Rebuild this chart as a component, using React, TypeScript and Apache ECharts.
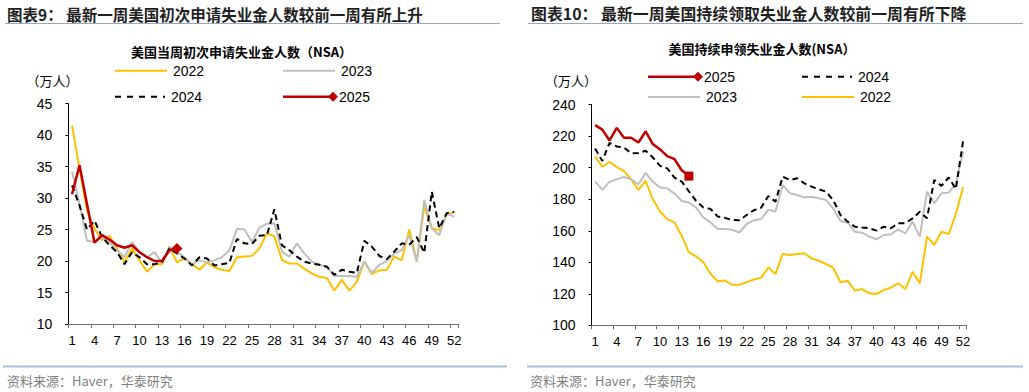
import React, { useEffect, useRef } from "react";
import * as echarts from "echarts";

// ---------- data ----------
const weeks = [
  "1","2","3","4","5","6","7","8","9","10","11","12","13","14","15","16","17","18","19","20",
  "21","22","23","24","25","26","27","28","29","30","31","32","33","34","35","36","37","38","39","40",
  "41","42","43","44","45","46","47","48","49","50","51","52",
];
const seriesNames = ["2022", "2023", "2024", "2025"];

// 初次申请失业金人数（NSA，万人）
const ic2022 = [
  41.5, 34.6, 28.0, 25.1, 23.3, 24.0, 22.0, 19.8, 22.0, 20.1,
  18.3, 19.5, 19.5, 22.2, 19.8, 20.4, 19.5, 18.6, 19.8, 19.0,
  18.6, 18.4, 20.6, 20.7, 20.8, 22.0, 24.4, 23.9, 20.2, 19.6,
  19.6, 18.8, 18.0, 17.5, 17.3, 15.3, 17.0, 15.3, 16.7, 19.9,
  17.9, 18.5, 18.6, 20.7, 20.1, 25.0, 19.9, 28.7, 25.2, 24.9,
  27.3, 27.8,
];
const ic2023 = [
  34.2, 29.0, 23.2, 23.0, 23.8, 23.0, 21.7, 20.6, 23.0, 21.4,
  20.6, 21.4, 19.7, 22.3, 21.4, 20.6, 19.5, 20.1, 19.8, 20.1,
  20.6, 21.7, 25.1, 25.0, 23.0, 25.3, 25.9, 26.0, 21.5, 20.7,
  22.8, 21.2, 19.9, 19.4, 19.1, 17.6, 17.6, 17.6, 17.5, 19.9,
  18.1, 19.4, 20.0, 21.2, 21.7, 24.1, 19.9, 29.7, 25.2, 24.1,
  27.6, 27.0,
];
const ic2024 = [
  32.0, 28.8, 25.0, 26.4, 23.8, 22.5, 21.4, 19.5, 21.4, 20.6,
  19.5, 19.5, 19.8, 22.0, 21.2, 20.4, 19.3, 20.6, 20.4, 19.3,
  19.5, 19.7, 23.5, 22.8, 22.7, 24.0, 24.1, 28.2, 22.5, 21.7,
  20.7, 19.9, 19.6, 19.4, 19.1, 17.8, 18.6, 18.3, 18.1, 23.2,
  22.3, 20.8, 20.3, 21.5, 22.8, 22.6, 23.8, 21.3, 31.0, 25.2,
  27.6, 27.8,
];
const ic2025 = [30.6, 35.2, 29.0, 22.9, 24.1, 23.4, 22.5, 22.1, 22.5, 21.4, 20.6, 20.0, 20.0, 21.7, 22.0];

// 持续申领失业金人数（NSA，万人）
const cc2022 = [
  207.0, 200.6, 203.8, 200.4, 197.9, 192.6, 185.9, 191.6, 180.0, 172.2,
  167.4, 165.3, 156.8, 146.3, 143.8, 140.0, 132.6, 128.0, 128.4, 125.7,
  125.7, 127.4, 129.1, 130.1, 136.8, 132.6, 145.3, 144.6, 145.3, 145.7,
  142.5, 141.0, 138.9, 136.6, 127.3, 128.3, 122.0, 123.0, 120.3, 119.9,
  122.4, 123.9, 126.7, 123.0, 134.0, 126.7, 156.3, 151.0, 159.4, 157.9,
  170.6, 187.6,
];
const cc2023 = [
  191.2, 185.9, 191.0, 192.6, 194.1, 192.6, 189.5, 196.8, 191.0, 187.4,
  186.9, 183.6, 178.9, 177.9, 174.7, 168.4, 165.3, 161.1, 161.1, 160.6,
  158.9, 164.2, 166.7, 167.4, 173.3, 172.2, 189.0, 183.8, 182.7, 181.2,
  181.6, 180.6, 179.5, 174.2, 166.2, 165.1, 159.4, 158.8, 156.3, 154.6,
  157.3, 157.8, 160.9, 158.4, 165.8, 156.3, 184.8, 177.4, 183.8, 184.2,
  190.1, 210.2,
];
const cc2024 = [
  212.2, 204.3, 215.8, 213.5, 212.8, 209.2, 209.3, 210.8, 206.5, 201.2,
  199.6, 193.7, 191.2, 185.0, 179.0, 174.8, 173.8, 169.0, 168.2, 166.8,
  166.6, 170.0, 173.0, 174.6, 182.0, 178.5, 194.3, 192.2, 193.3, 190.1,
  188.0, 186.3, 184.8, 179.5, 170.0, 165.8, 162.6, 162.0, 161.6, 160.1,
  162.6, 161.6, 164.8, 164.8, 167.9, 172.0, 167.9, 192.2, 188.5, 193.8,
  186.5, 217.0,
];
const cc2025 = [227.0, 224.2, 217.3, 225.3, 219.0, 219.0, 216.0, 223.0, 215.0, 211.6, 207.4, 205.5, 198.4, 194.7];

const leftAxis = { min: 10, max: 45, interval: 5 };
const rightAxis = { min: 100, max: 240, interval: 20 };

const texts = {
  leftHeader: "图表9： 最新一周美国初次申请失业金人数较前一周有所上升",
  rightHeader: "图表10： 最新一周美国持续领取失业金人数较前一周有所下降",
  leftTitle: "美国当周初次申请失业金人数（NSA）",
  rightTitle: "美国持续申领失业金人数(NSA）",
  unit: "（万人）",
  source: "资料来源：Haver，华泰研究",
};

// ---------- styling ----------
const C = { y2022: "#FFC000", y2023: "#BFBFBF", y2024: "#000000", y2025: "#C00000" };
const FONT_CJK = "'Noto Sans CJK SC', 'Noto Sans', sans-serif";
const FONT_NUM = "'Liberation Sans', Arial, sans-serif";
const FONT_NARROW = "'Liberation Sans Narrow', 'Liberation Sans', Arial, sans-serif";
const RULE = "#8EA9C9";

function lineSeries(name: string, data: number[], gi: number, color: string, opts: any = {}) {
  return {
    type: "line",
    name,
    xAxisIndex: gi,
    yAxisIndex: gi,
    data,
    silent: true,
    symbol: "none",
    lineStyle: { color, width: 2, type: "solid", ...(opts.lineStyle || {}) },
    itemStyle: { color },
    emphasis: { disabled: true },
    z: opts.z || 2,
    ...(opts.extra || {}),
  };
}

function markedSeries(name: string, data: number[], gi: number, color: string, symbol: string, size: number) {
  const last = data.length - 1;
  return {
    type: "line",
    name,
    xAxisIndex: gi,
    yAxisIndex: gi,
    data,
    silent: true,
    symbol,
    showSymbol: true,
    symbolSize: (_v: any, p: any) => (p.dataIndex === last ? size : 0),
    lineStyle: { color, width: 2.5 },
    itemStyle: { color },
    emphasis: { disabled: true },
    z: 5,
  };
}

function xAxisCfg(gi: number) {
  return {
    type: "category",
    gridIndex: gi,
    data: weeks,
    boundaryGap: true,
    axisLine: { show: true, lineStyle: { color: "#6f6f6f", width: 1 } },
    axisTick: { show: true, interval: 2, length: 4, lineStyle: { color: "#6f6f6f" } },
    axisLabel: { interval: 2, margin: 10, fontSize: 13, color: "#000", fontFamily: FONT_NARROW },
    splitLine: { show: false },
  };
}

function yAxisCfg(gi: number, a: { min: number; max: number; interval: number }) {
  return {
    type: "value",
    gridIndex: gi,
    min: a.min,
    max: a.max,
    interval: a.interval,
    axisLine: { show: true, lineStyle: { color: "#000", width: 1 } },
    axisTick: { show: true, length: 3, lineStyle: { color: "#000" } },
    axisLabel: { margin: 16, fontSize: 14, color: "#000", fontFamily: FONT_NUM },
    splitLine: { show: false },
  };
}

function legendItem(x: number, y: number, label: string, color: string, kind: "solid" | "dash" | "marker", w = 52) {
  const els: any[] = [];
  els.push({
    type: "line",
    shape: { x1: x, y1: y, x2: x + w, y2: y },
    style: {
      stroke: color,
      lineWidth: kind === "marker" ? 2.5 : 2,
      lineDash: kind === "dash" ? [6, 6] : null,
    },
    silent: true,
  });
  if (kind === "marker") {
    const cx = x + w, r = 5;
    els.push({
      type: "polygon",
      shape: { points: [[cx, y - r], [cx + r, y], [cx, y + r], [cx - r, y]] },
      style: { fill: color },
      silent: true,
    });
  }
  els.push({
    type: "text",
    x: x + w + 6,
    y,
    style: { text: label, fill: "#000", fontSize: 14, fontFamily: FONT_NUM, align: "left", verticalAlign: "middle" },
    silent: true,
  });
  return els;
}

function txt(x: number, y: number, text: string, o: any = {}) {
  return {
    type: "text",
    x,
    y,
    silent: true,
    style: {
      text,
      fill: o.fill || "#000",
      fontSize: o.fontSize || 13,
      fontWeight: o.fontWeight || "normal",
      fontFamily: o.fontFamily || FONT_CJK,
      align: o.align || "left",
      verticalAlign: "middle",
    },
  };
}

function hline(x1: number, x2: number, y: number, color: string, w: number) {
  return { type: "line", silent: true, shape: { x1, y1: y, x2, y2: y }, style: { stroke: color, lineWidth: w } };
}

export default function App() {
  const ref = useRef<HTMLDivElement>(null);

  useEffect(() => {
    if (!ref.current) return;
    const chart = echarts.init(ref.current, undefined, { renderer: "svg" });

    const graphic: any[] = [
      // headers
      txt(7, 13.5, texts.leftHeader, { fontSize: 15.5, fontWeight: "bold", fill: "#1f1f1f" }),
      txt(531, 13.5, texts.rightHeader, { fontSize: 15.9, fontWeight: "bold", fill: "#1f1f1f" }),
      hline(5, 500, 23.5, RULE, 1),
      hline(528, 1023, 23.5, RULE, 1),
      // chart titles
      txt(241.5, 51.5, texts.leftTitle, { fontSize: 13, fontWeight: "bold", align: "center" }),
      txt(762, 48.5, texts.rightTitle, { fontSize: 13, fontWeight: "bold", align: "center" }),
      // units
      txt(52.5, 80, texts.unit, { fontSize: 13, align: "center" }),
      txt(571, 80, texts.unit, { fontSize: 13, align: "center" }),
      // left legend
      ...legendItem(115, 70.7, seriesNames[0], C.y2022, "solid"),
      ...legendItem(283, 70.7, seriesNames[1], C.y2023, "solid"),
      ...legendItem(115, 96.7, seriesNames[2], C.y2024, "dash", 50),
      ...legendItem(283, 96.7, seriesNames[3], C.y2025, "marker", 50),
      // right legend
      ...legendItem(648, 76.7, seriesNames[3], C.y2025, "marker", 50),
      ...legendItem(802, 76.7, seriesNames[2], C.y2024, "dash", 50),
      ...legendItem(648, 97, seriesNames[1], C.y2023, "solid"),
      ...legendItem(802, 97, seriesNames[0], C.y2022, "solid"),
      // footers
      hline(3, 507, 366.5, "#A9C0DA", 2),
      hline(527, 1023, 366.5, "#A9C0DA", 2),
      txt(7, 380, texts.source, { fontSize: 13, fill: "#7f7f7f" }),
      txt(530, 380, texts.source, { fontSize: 13, fill: "#7f7f7f" }),
    ];

    chart.setOption({
      animation: false,
      backgroundColor: "#ffffff",
      textStyle: { fontFamily: FONT_NUM },
      grid: [
        { left: 68.3, right: 1029 - 458, top: 103.5, bottom: 392 - 324, containLabel: false },
        { left: 591.5, right: 1029 - 966.7, top: 104.7, bottom: 392 - 325.3, containLabel: false },
      ],
      xAxis: [xAxisCfg(0), xAxisCfg(1)],
      yAxis: [yAxisCfg(0, leftAxis), yAxisCfg(1, rightAxis)],
      series: [
        lineSeries(seriesNames[0], ic2022, 0, C.y2022),
        lineSeries(seriesNames[1], ic2023, 0, C.y2023),
        lineSeries(seriesNames[2], ic2024, 0, C.y2024, { lineStyle: { type: [6, 4] }, z: 3 }),
        markedSeries(seriesNames[3], ic2025, 0, C.y2025, "diamond", 11),
        lineSeries(seriesNames[0], cc2022, 1, C.y2022),
        lineSeries(seriesNames[1], cc2023, 1, C.y2023),
        lineSeries(seriesNames[2], cc2024, 1, C.y2024, { lineStyle: { type: [6, 4] }, z: 3 }),
        markedSeries(seriesNames[3], cc2025, 1, C.y2025, "rect", 9),
      ],
      graphic,
    });

    return () => chart.dispose();
  }, []);

  return (
    <div
      ref={ref}
      style={{ position: "fixed", left: 0, top: 0, width: 1029, height: 392, background: "#fff" }}
    />
  );
}
